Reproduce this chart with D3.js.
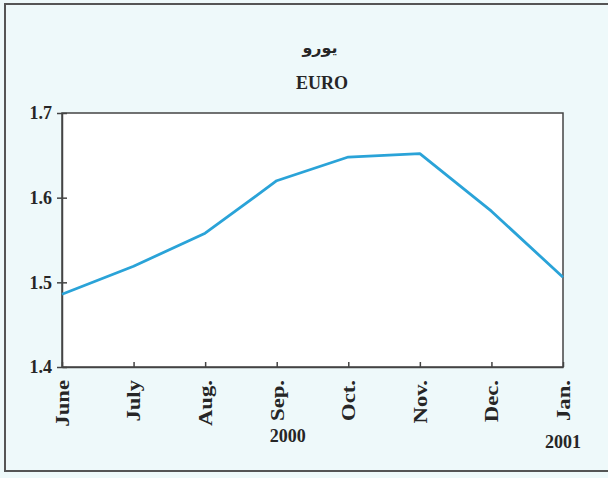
<!DOCTYPE html>
<html><head><meta charset="utf-8">
<script src="https://cdn.jsdelivr.net/npm/d3@7"></script>
<style>
html,body{margin:0;padding:0;background:#eef9fa;}
svg{display:block;}
</style></head>
<body>
<svg id="chart" width="608" height="478"></svg>
<script>
const months = ["June","July","Aug.","Sep.","Oct.","Nov.","Dec.","Jan."];
const values = [1.486, 1.519, 1.558, 1.620, 1.648, 1.652, 1.584, 1.506];
const yTicks = [1.4, 1.5, 1.6, 1.7];
const titleAr = "يورو";
const titleEn = "EURO";
const yearLabels = [{text:"2000", month:"Sep.", dx: 11, y: 442}, {text:"2001", month:"Jan.", dx: 0, y: 448}];

const svg = d3.select("#chart");
const font = "'Liberation Serif', 'Times New Roman', serif";
const L = 62, R = 563, T = 113, B = 367;
const ink = "#262626";
const stretch = 1.26;

svg.append("rect").attr("x",5).attr("y",4).attr("width",610).attr("height",467)
  .attr("fill","#eef9fa").attr("stroke","#555").attr("stroke-width",2);

const x = d3.scalePoint().domain(months).range([L, R]);
const y = d3.scaleLinear().domain([1.4, 1.7]).range([B, T]);

svg.append("rect").attr("x",L).attr("y",T).attr("width",R-L).attr("height",B-T)
  .attr("fill","#ffffff").attr("stroke","#444").attr("stroke-width",1.5);

const yAxis = svg.append("g").attr("transform",`translate(${L},0)`)
  .call(d3.axisLeft(y).tickValues(yTicks).tickFormat(d3.format(".1f")).tickSize(5).tickSizeOuter(0));
yAxis.select(".domain").attr("stroke","#444").attr("stroke-width",1.5);
yAxis.selectAll(".tick line").attr("stroke","#444").attr("stroke-width",1.5).attr("x2",5).attr("x1",-5);
yAxis.selectAll(".tick text").attr("x",-10).attr("font-family",font).attr("font-weight","bold")
  .attr("font-size",18).attr("fill",ink);

const xAxis = svg.append("g").attr("transform",`translate(0,${B})`)
  .call(d3.axisBottom(x).tickSize(5).tickSizeOuter(0));
xAxis.select(".domain").attr("stroke","#444").attr("stroke-width",1.5);
xAxis.selectAll(".tick line").attr("stroke","#444").attr("stroke-width",1.5).attr("y1",-5).attr("y2",0);
xAxis.selectAll(".tick text")
  .attr("font-family",font).attr("font-weight","bold").attr("font-size",18).attr("fill",ink)
  .attr("transform",`rotate(-90) scale(${stretch},1)`).attr("x",-13/stretch).attr("y",0).attr("dy","0.35em")
  .attr("text-anchor","end");

const line = d3.line().x((d,i)=>x(months[i])).y(d=>y(d));
svg.append("path").datum(values).attr("d",line).attr("fill","none")
  .attr("stroke","#2aa3d8").attr("stroke-width",2.8).attr("stroke-linejoin","round");

svg.append("text").attr("x",320).attr("y",53).attr("text-anchor","middle")
  .attr("font-family","'DejaVu Sans', 'Noto Sans', sans-serif").attr("font-weight","bold").attr("font-size",16)
  .attr("fill",ink).text(titleAr);
svg.append("text").attr("x",322).attr("y",89).attr("text-anchor","middle")
  .attr("font-family",font).attr("font-weight","bold").attr("font-size",18)
  .attr("fill",ink).text(titleEn);

svg.selectAll("text.year").data(yearLabels).enter().append("text").attr("class","year")
  .attr("x",d=>x(d.month)+d.dx).attr("y",d=>d.y).attr("text-anchor","middle")
  .attr("font-family",font).attr("font-weight","bold").attr("font-size",18).attr("fill",ink)
  .text(d=>d.text);
</script>
</body></html>
